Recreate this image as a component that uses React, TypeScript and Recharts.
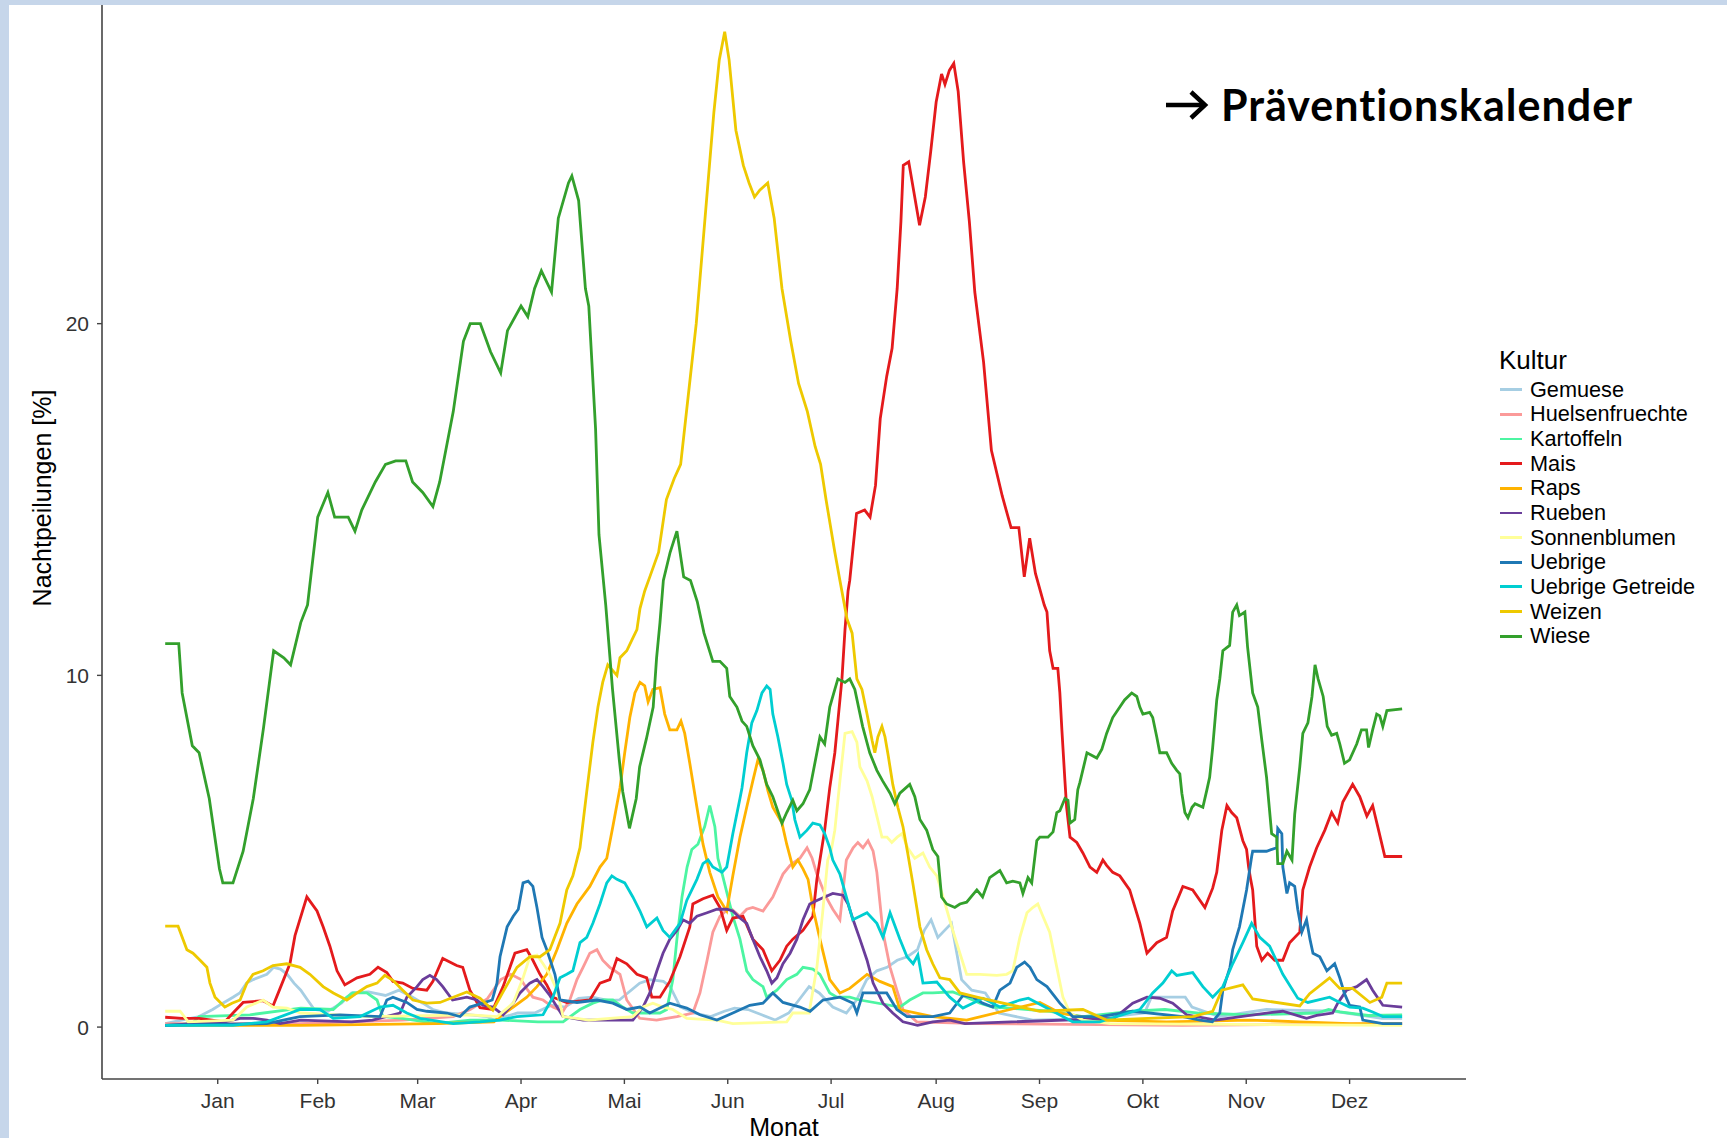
import { LineChart, Line, XAxis, YAxis, Legend, Label } from "recharts";

const FONT = "'Liberation Sans', Arial, sans-serif";

const months = ["Jan", "Feb", "Mar", "Apr", "Mai", "Jun", "Jul", "Aug", "Sep", "Okt", "Nov", "Dez"];
const monthDays = [31, 28, 31, 30, 31, 30, 31, 31, 30, 31, 30, 31];
const yTicks = [0, 10, 20];

// [Tag im Jahr, Nachtpeilungen %]
const gemuese = [
  [0, 0.1], [10, 0.3], [14, 0.5], [17, 0.68], [20, 0.85], [22, 0.97], [24, 1.25], [26, 1.35], [30, 1.5], [32, 1.7],
  [34, 1.65], [36, 1.5], [38, 1.25], [40, 1.05], [42, 0.77], [44, 0.5], [48, 0.45], [52, 0.68], [55, 0.97], [60, 1.0],
  [65, 0.9], [69, 1.05], [73, 0.85], [76, 0.68], [79, 0.5], [83, 0.4], [90, 0.35], [95, 0.3], [97, 0.2], [104, 0.4],
  [109, 0.4], [114, 0.62], [118, 0.57], [122, 0.82], [126, 0.85], [131, 0.75], [134, 0.77], [140, 1.25], [143, 1.35],
  [147, 1.3], [149, 1.15], [152, 0.57], [156, 0.4], [161, 0.3], [165, 0.45], [168, 0.54], [172, 0.5], [176, 0.35],
  [180, 0.2], [184, 0.4], [187, 0.77], [190, 1.15], [193, 0.97], [197, 0.57], [201, 0.4], [204, 0.77], [207, 1.35],
  [210, 1.6], [213, 1.7], [216, 1.9], [219, 2.0], [222, 2.2], [224, 2.75], [226, 3.05], [228, 2.55], [230, 2.75],
  [232, 2.95], [235, 1.35], [238, 1.05], [242, 0.97], [246, 0.4], [256, 0.2], [275, 0.25], [289, 0.4], [291, 0.85],
  [296, 0.85], [301, 0.85], [303, 0.57], [311, 0.3], [325, 0.5], [345, 0.45], [359, 0.25], [365, 0.25],
];

const huelsenfruechte = [
  [0, 0.1], [40, 0.1], [70, 0.2], [85, 0.3], [90, 0.5], [95, 0.8], [99, 1.35], [102, 1.5], [105, 1.35], [107, 1.05],
  [108.5, 0.85], [111.5, 0.77], [114.4, 0.57], [117.4, 0.45], [119.4, 0.77], [121.5, 1.35], [123.3, 1.7], [125.3, 2.1],
  [127.4, 2.2], [129.1, 1.9], [131.2, 1.7], [134.2, 1.5], [136.2, 0.77], [140, 0.25], [145, 0.2], [151, 0.3],
  [155.7, 0.4], [157.8, 0.97], [159.9, 1.9], [161.6, 2.7], [163.7, 3.15], [166.6, 3.4], [169.6, 3.15], [171.6, 3.35],
  [173.4, 3.4], [176.4, 3.3], [179.3, 3.7], [182.3, 4.35], [184.4, 4.6], [187.3, 4.8], [189.4, 5.1], [190.9, 4.8],
  [192.3, 4.35], [195, 3.7], [197, 3.35], [199.1, 3.05], [201, 4.75], [203, 5.1], [204.4, 5.25], [205.9, 5.1],
  [207.4, 5.3], [208.9, 5.0], [210, 4.4], [211.8, 2.7], [213.9, 1.7], [215.9, 1.05], [217.7, 0.5], [221.8, 0.15],
  [240, 0.1], [300, 0.05], [365, 0.1],
];

const kartoffeln = [
  [0, 0.05], [8, 0.1], [10, 0.3], [25, 0.35], [40, 0.54], [49.6, 0.5], [51.6, 0.68], [53.6, 0.85], [55.4, 0.97],
  [59.5, 0.97], [62.5, 0.77], [64.2, 0.3], [70, 0.25], [80, 0.1], [90, 0.2], [99, 0.2], [110, 0.15], [117.4, 0.15],
  [122.4, 0.5], [126.2, 0.68], [129.1, 0.77], [132.1, 0.77], [135, 0.57], [138, 0.4], [146, 0.4], [148, 0.5],
  [149.8, 1.35], [151, 2.5], [152.5, 3.7], [154, 4.55], [155.4, 5.05], [157.2, 5.2], [159.2, 5.7], [160.7, 6.3],
  [162.2, 5.7], [163.1, 4.8], [164.5, 4.3], [167.5, 3.15], [169.6, 2.5], [171.6, 1.6], [173.4, 1.35], [176.4, 1.15],
  [177.5, 0.85], [180.5, 1.05], [183.4, 1.35], [186.4, 1.5], [188.2, 1.7], [191.1, 1.65], [193.2, 1.5], [196.1, 0.97],
  [198.2, 0.85], [202, 0.85], [205, 0.77], [216.8, 0.57], [219.7, 0.77], [223.6, 0.97], [226.5, 0.97], [232.4, 1.0],
  [236.5, 0.85], [240.4, 0.68], [244.2, 0.57], [249.3, 0.54], [261, 0.45], [270.8, 0.3], [285.5, 0.45], [295, 0.5],
  [305, 0.4], [320, 0.35], [340, 0.4], [343.3, 0.5], [346.6, 0.43], [355, 0.33], [365, 0.35],
];

const mais = [
  [0, 0.28], [5, 0.25], [10, 0.25], [17.6, 0.15], [20, 0.4], [23, 0.7], [28.9, 0.75], [31.8, 0.6], [33.9, 1.1],
  [36.8, 1.8], [38.3, 2.6], [41.8, 3.7], [44.8, 3.3], [46.6, 2.85], [48.6, 2.3], [50.7, 1.6], [53, 1.2], [56.6, 1.4],
  [60.4, 1.5], [62.8, 1.7], [65.4, 1.55], [67.2, 1.3], [70.1, 1.25], [73.1, 1.1], [77.2, 1.05], [79, 1.3], [81.9, 1.95],
  [86, 1.75], [87.8, 1.7], [89.9, 1.05], [92.9, 0.55], [96.7, 0.5], [99.7, 1.15], [103.2, 2.1], [106.7, 2.2],
  [108.5, 1.9], [110.6, 1.5], [112.6, 1.2], [114.4, 0.85], [118.5, 0.7], [125.3, 0.77], [128.3, 1.25], [131.2, 1.35],
  [133.3, 1.95], [136.2, 1.8], [139.2, 1.5], [142.1, 1.4], [143.6, 0.85], [146, 0.85], [148.9, 1.3], [151.9, 2.0],
  [154.8, 2.85], [155.7, 3.5], [158.7, 3.65], [161.6, 3.75], [163.7, 3.4], [165.7, 2.75], [167.5, 3.1], [170.5, 3.15],
  [173.4, 2.5], [176.4, 2.2], [179, 1.6], [181.4, 1.9], [183.4, 2.3], [185.2, 2.5], [188.2, 2.75], [191.1, 3.15],
  [192.3, 4.2], [193.2, 4.75], [194.6, 5.6], [196.1, 6.8], [197.6, 7.8], [198.5, 8.7], [199.7, 9.9], [200.6, 11.3],
  [201.5, 12.4], [202, 12.7], [204, 14.6], [206.4, 14.7], [208, 14.5], [209.6, 15.4], [211, 17.3], [212.9, 18.5],
  [214.5, 19.3], [216, 21.0], [217.1, 22.9], [217.8, 24.5], [219.4, 24.6], [221, 23.7], [222.6, 22.8], [224.3, 23.6],
  [225.9, 24.9], [227.5, 26.3], [229.1, 27.1], [230.1, 26.8], [231.4, 27.2], [232.7, 27.4], [234, 26.6], [235.6, 24.6],
  [237.3, 22.9], [238.9, 20.9], [241.5, 18.9], [243.8, 16.4], [247, 15.1], [249.6, 14.2], [251.9, 14.2], [253.5, 12.8],
  [255.1, 13.9], [256.8, 12.9], [259.4, 12.0], [260.2, 11.8], [261, 10.7], [262, 10.2], [263.4, 10.2], [264, 9.5],
  [264.6, 8.45], [265.5, 7.0], [266, 6.25], [267, 5.4], [269, 5.25], [270.8, 4.95], [272.9, 4.55], [274.9, 4.4],
  [276.7, 4.75], [277.8, 4.6], [279.6, 4.4], [281.7, 4.3], [284.6, 3.9], [287.6, 2.95], [289.7, 2.1], [292.6, 2.4],
  [295.5, 2.55], [297.3, 3.3], [300.3, 4.0], [303.2, 3.9], [306.8, 3.4], [309.1, 3.95], [310.3, 4.4], [311.8, 5.6],
  [313.3, 6.3], [314.7, 6.1], [316.2, 5.95], [318, 5.3], [319.1, 5.05], [319.7, 4.55], [320.3, 4.2], [320.9, 3.9],
  [322.1, 2.3], [323.6, 1.9], [325.3, 2.1], [327.4, 1.9], [329.8, 1.9], [331.8, 2.4], [334.8, 2.7], [335.7, 3.9],
  [337.7, 4.55], [339.8, 5.1], [342.2, 5.6], [344.2, 6.1], [346, 5.8], [347.5, 6.4], [350.4, 6.9], [352.5, 6.55],
  [354.6, 6.0], [356.3, 6.3], [357.8, 5.7], [359.9, 4.85], [365, 4.85],
];

const raps = [
  [0, 0.05], [40, 0.05], [80, 0.1], [97, 0.15], [98.8, 0.3], [102.7, 0.57], [106.7, 0.85], [109.7, 1.15], [112.6, 1.5],
  [115.6, 2.2], [118.5, 2.95], [121.5, 3.5], [125.3, 4.0], [128.3, 4.55], [130.3, 4.8], [132.1, 5.7], [134.2, 6.8],
  [135.6, 7.8], [137.1, 8.8], [138.6, 9.5], [140.1, 9.8], [141.5, 9.7], [142.5, 9.25], [143.9, 9.6], [146, 9.65],
  [147.4, 8.9], [148.9, 8.45], [151, 8.45], [152.2, 8.7], [153.3, 8.35], [154.8, 7.5], [156.9, 6.25], [158.7, 5.2],
  [160.7, 4.4], [163.1, 3.7], [165.7, 3.3], [167.5, 4.3], [169.6, 5.4], [171.6, 6.25], [173.4, 7.0], [174.9, 7.6],
  [176.4, 7.3], [177.9, 6.7], [179.3, 6.25], [182, 5.8], [183.4, 5.2], [185.2, 4.55], [186.7, 4.75], [188.2, 4.5],
  [189.7, 4.2], [191.1, 3.4], [193.2, 2.5], [196.1, 1.35], [199.1, 0.97], [202, 1.1], [207.1, 1.5], [210.9, 1.3],
  [214.7, 1.15], [216.8, 0.5], [226.5, 0.3], [236.5, 0.2], [249.3, 0.5], [258.1, 0.7], [264, 0.4], [275.8, 0.2],
  [295.5, 0.15], [320, 0.2], [334.8, 0.15], [349.5, 0.1], [365, 0.1],
];

const rueben = [
  [0, 0.05], [17.6, 0.15], [22.1, 0.25], [25.9, 0.25], [30, 0.2], [33.9, 0.1], [40, 0.2], [55, 0.15], [61.2, 0.2],
  [69.3, 0.4], [71.3, 0.85], [74.3, 1.15], [76, 1.35], [78.1, 1.47], [80.1, 1.35], [81.9, 1.15], [84.8, 0.77], [89, 0.85],
  [92, 0.77], [93.7, 0.62], [96.7, 0.57], [99.7, 0.35], [102.7, 0.68], [104.7, 0.97], [107.6, 1.25], [109.7, 1.35],
  [111.5, 1.15], [113.5, 0.9], [117.4, 0.3], [123.3, 0.2], [138, 0.2], [141, 0.57], [143, 0.97], [145.1, 1.6],
  [146.9, 2.1], [148.9, 2.5], [151, 2.75], [152.8, 3.05], [154.8, 2.95], [156.9, 3.15], [159.9, 3.25], [162.8, 3.35],
  [165.7, 3.35], [167.5, 3.3], [169.6, 3.1], [171.6, 2.95], [173.4, 2.5], [175.5, 2.0], [177.5, 1.6], [179, 1.25],
  [180.5, 1.4], [182.3, 1.8], [184.4, 2.1], [186.4, 2.5], [188.2, 3.05], [190.2, 3.5], [192.3, 3.6], [194.6, 3.7],
  [197, 3.8], [200, 3.75], [201.5, 3.5], [203, 3.05], [205, 2.5], [207.1, 1.9], [208.9, 1.25], [211.8, 0.68],
  [214.7, 0.4], [217.7, 0.15], [222, 0.05], [226.5, 0.15], [231.5, 0.2], [236, 0.1], [280, 0.25], [285.5, 0.68],
  [289.7, 0.85], [293.5, 0.82], [297.3, 0.68], [301.4, 0.35], [310, 0.2], [325, 0.4], [329.8, 0.45], [336.8, 0.25],
  [339.8, 0.33], [344.5, 0.4], [346, 0.68], [348.6, 1.05], [351.6, 1.15], [354.5, 1.35], [356.3, 1.05], [359.3, 0.62],
  [365, 0.57],
];

const sonnenblumen = [
  [0, 0.45], [4.4, 0.45], [6.8, 0.15], [20, 0.2], [24.1, 0.57], [28.9, 0.77], [31.8, 0.57], [35.9, 0.54], [40, 0.4],
  [60, 0.3], [90, 0.35], [98, 0.3], [102.7, 0.68], [105.6, 1.4], [107.6, 2.0], [109.7, 2.05], [111.5, 1.8], [113.5, 1.5],
  [115.6, 1.05], [117.4, 0.3], [125, 0.2], [138, 0.3], [141, 0.57], [143.9, 0.68], [146.9, 0.57], [149.8, 0.5],
  [153.9, 0.25], [162.8, 0.2], [167.5, 0.1], [183.4, 0.15], [185.2, 0.4], [190, 0.4], [192.3, 1.7], [194, 3.25],
  [195.5, 4.75], [196.5, 5.0], [197.6, 5.6], [199.1, 7.0], [200.6, 8.35], [202.7, 8.4], [204.1, 8.1], [205, 7.4],
  [207.1, 7.0], [208.6, 6.55], [210, 6.0], [211.5, 5.4], [213, 5.4], [214.4, 5.25], [216, 5.4], [217.4, 5.5],
  [219.1, 5.1], [221.2, 4.8], [223.6, 4.95], [225.6, 4.55], [227.7, 4.3], [230.6, 3.35], [232.4, 2.75], [234.5, 2.1],
  [236.5, 1.5], [240.4, 1.5], [245.4, 1.47], [248.3, 1.5], [250.1, 1.6], [252.2, 2.55], [254.3, 3.25], [256, 3.4],
  [257.5, 3.5], [259, 3.15], [261, 2.7], [263.1, 1.7], [264.9, 0.85], [267, 0.4], [270.8, 0.2], [278.8, 0.1],
  [365, 0.05],
];

const uebrige = [
  [0, 0.05], [30, 0.1], [39.8, 0.3], [51.6, 0.35], [63.4, 0.3], [65.4, 0.77], [67.2, 0.85], [71.3, 0.7], [74.3, 0.5],
  [77.2, 0.45], [83.1, 0.4], [87, 0.3], [89.9, 0.57], [93.7, 0.68], [96.5, 0.77], [97.9, 1.25], [98.8, 2.0],
  [100.9, 2.85], [102.7, 3.15], [104.2, 3.35], [105.6, 4.1], [107.1, 4.15], [108.5, 4.0], [109.7, 3.4], [111.2, 2.55],
  [112.6, 2.2], [115, 1.5], [116.5, 0.77], [121.5, 0.7], [127.4, 0.77], [132.1, 0.68], [136.2, 0.5], [140.1, 0.57],
  [143, 0.4], [148.9, 0.68], [153.9, 0.54], [157.8, 0.35], [162.8, 0.2], [167.5, 0.4], [172.5, 0.62], [176.4, 0.68],
  [179.3, 0.97], [182.3, 0.7], [187.3, 0.57], [190.3, 0.45], [194.1, 0.77], [199.1, 0.85], [203, 0.68], [204.1, 0.4],
  [205.9, 0.97], [212.9, 0.97], [215.9, 0.5], [218.9, 0.3], [226.5, 0.3], [231.5, 0.4], [235.4, 0.9], [238.4, 0.85],
  [241.2, 0.68], [244.2, 0.57], [246.3, 1.05], [249.3, 1.25], [251.3, 1.7], [253.6, 1.85], [255.2, 1.7], [257.2, 1.35],
  [260.2, 1.15], [264, 0.68], [267.8, 0.3], [275.8, 0.3], [285.5, 0.45], [300.3, 0.3], [305.3, 0.2], [309, 0.15],
  [311.2, 0.4], [312.1, 1.05], [314.2, 1.7], [315, 2.2], [317, 2.85], [319.1, 3.9], [320.6, 4.85], [320.9, 5.0],
  [325, 5.0], [328, 5.1], [328.3, 5.65], [329.5, 5.5], [329.8, 4.55], [331, 3.8], [331.8, 4.1], [333.3, 4.0],
  [334.2, 3.35], [335.4, 2.7], [336.8, 3.05], [337.8, 2.5], [338.7, 2.1], [340.7, 2.0], [342.8, 1.6], [345.1, 1.8],
  [346.6, 1.4], [348, 0.95], [349.5, 0.62], [352.5, 0.57], [353.4, 0.2], [359.3, 0.1], [365, 0.1],
];

const uebrigeGetreide = [
  [0, 0.05], [20, 0.05], [30, 0.15], [39.8, 0.5], [45.7, 0.5], [49.6, 0.25], [57.5, 0.3], [63.4, 0.57], [67.2, 0.62],
  [71.3, 0.4], [75.2, 0.25], [85, 0.1], [92.9, 0.15], [98.8, 0.2], [103.8, 0.3], [111.5, 0.35], [114.4, 0.85],
  [116.5, 1.4], [118.5, 1.5], [120.3, 1.6], [122.4, 2.4], [124.4, 2.55], [126.2, 2.95], [128.3, 3.5], [130.3, 4.1],
  [131.8, 4.3], [133.3, 4.2], [135.6, 4.1], [138, 3.7], [140.1, 3.3], [142.1, 2.85], [145.1, 3.1], [146.9, 2.75],
  [148.9, 2.55], [151.9, 2.95], [153.9, 3.6], [156.9, 4.2], [158.7, 4.65], [160.2, 4.75], [161.6, 4.55], [164.3, 4.4],
  [165.7, 4.55], [167.5, 5.5], [169.6, 6.5], [170.2, 6.8], [171.6, 7.8], [173.1, 8.65], [174.6, 9.0], [176.1, 9.5],
  [177.5, 9.7], [178.5, 9.6], [179.3, 8.9], [180.8, 8.25], [182.3, 7.5], [183.4, 6.9], [184.9, 6.45], [185.8, 5.9],
  [187.3, 5.4], [189.4, 5.6], [191.1, 5.8], [193.2, 5.75], [194.6, 5.5], [196.1, 5.1], [197, 4.75], [199.1, 4.35],
  [202.9, 3.05], [205, 3.15], [207.1, 3.25], [210, 2.95], [211.8, 2.55], [213.9, 3.25], [216.8, 2.5], [218.9, 2.0],
  [220.7, 1.8], [222.1, 2.05], [223.6, 1.25], [227.7, 1.28], [231.5, 0.85], [235.4, 0.54], [241.3, 0.82],
  [246.3, 0.57], [252.2, 0.77], [254.7, 0.82], [261, 0.5], [267.8, 0.15], [275.8, 0.15], [280.8, 0.3], [287.6, 0.5],
  [291.4, 0.97], [294.4, 1.25], [297, 1.6], [298.5, 1.47], [303.2, 1.55], [306.2, 1.15], [309.1, 0.85], [312.1, 1.15],
  [315, 1.8], [318, 2.4], [320.6, 2.95], [323, 2.55], [325.9, 2.3], [329.8, 1.5], [334.2, 0.82], [337.2, 0.7],
  [343.6, 0.85], [346.6, 0.7], [349.5, 0.57], [353.4, 0.54], [356.3, 0.43], [359.3, 0.3], [365, 0.3],
];

const weizen = [
  [0, 2.87], [3.8, 2.87], [6.4, 2.2], [8.2, 2.1], [10.3, 1.9], [12.3, 1.7], [13.2, 1.25], [14.7, 0.85], [17.6, 0.57],
  [19.7, 0.68], [22.1, 0.77], [24.1, 1.25], [25.9, 1.5], [28.9, 1.6], [31.8, 1.75], [35.9, 1.8], [39.8, 1.7],
  [42.7, 1.5], [46.6, 1.15], [49.6, 0.97], [53.6, 0.77], [56.6, 0.97], [59.5, 1.15], [62.5, 1.25], [64.8, 1.47],
  [67.2, 1.33], [70.1, 1.05], [73.1, 0.77], [77.2, 0.68], [81.1, 0.7], [85, 0.85], [89, 1.0], [92.9, 0.82], [96.7, 0.48],
  [99.7, 1.0], [103.8, 1.7], [107.6, 2.0], [110.6, 2.0], [113.5, 2.2], [116.5, 2.95], [118.5, 3.9], [120.3, 4.3],
  [122.4, 5.1], [124.4, 6.7], [126.2, 8.1], [127.7, 9.1], [129.1, 9.8], [130.6, 10.3], [133.3, 10.0], [134.2, 10.5],
  [136.2, 10.7], [137.7, 11.0], [139.2, 11.3], [140.1, 11.9], [141.5, 12.4], [143, 12.8], [145.6, 13.5], [147.9, 15.0],
  [150.2, 15.6], [152.1, 16.0], [154.4, 18.0], [156.7, 20.0], [159.3, 23.0], [161.9, 26.0], [163.5, 27.5],
  [165.1, 28.3], [166.4, 27.5], [168.4, 25.5], [170.6, 24.5], [172.3, 24.0], [173.9, 23.6], [175.5, 23.8],
  [177.8, 24.0], [179.7, 23.0], [182, 21.0], [184.6, 19.5], [186.9, 18.3], [189.5, 17.5], [191.8, 16.5], [193.4, 16.0],
  [195, 15.0], [197.6, 13.5], [199.1, 12.7], [201.2, 11.6], [202.7, 11.2], [204.1, 9.9], [205.6, 9.6], [207.1, 8.9],
  [208.6, 8.15], [209.4, 7.8], [210.3, 8.25], [211.5, 8.55], [212.4, 8.25], [213.3, 7.75], [214.7, 6.9], [216.2, 6.25],
  [217.7, 5.7], [219.1, 4.95], [220.6, 4.1], [222.7, 2.85], [224.7, 2.2], [226.5, 1.8], [228.6, 1.4], [231.5, 1.35],
  [234.5, 0.97], [239.5, 0.85], [246.3, 0.7], [258.1, 0.45], [270.8, 0.5], [277.8, 0.2], [303.2, 0.3], [309.1, 0.45],
  [311.8, 1.05], [318, 1.2], [320.9, 0.8], [334.8, 0.6], [337.7, 0.95], [343.6, 1.4], [346.6, 1.1], [350.4, 1.1],
  [355.5, 0.7], [359, 0.85], [360.5, 1.25], [365, 1.25],
];

const wiese = [
  [0, 10.9], [4, 10.9], [5, 9.5], [8, 8.0], [10, 7.8], [13, 6.5], [16, 4.5], [17, 4.1], [20, 4.1], [23, 5.0], [26, 6.5],
  [29, 8.5], [32, 10.7], [35, 10.5], [37, 10.3], [40, 11.5], [42, 12.0], [45, 14.5], [48, 15.2], [50, 14.5], [54, 14.5],
  [56, 14.1], [58, 14.7], [62, 15.5], [65, 16.0], [68, 16.1], [71, 16.1], [73, 15.5], [76, 15.2], [79, 14.8], [81, 15.5],
  [85, 17.5], [88, 19.5], [90, 20.0], [93, 20.0], [96, 19.2], [99, 18.6], [101, 19.8], [105, 20.5], [107, 20.2],
  [109, 21.0], [111, 21.5], [114, 20.9], [116, 23.0], [119, 24.0], [120, 24.2], [122, 23.5], [124, 21.0], [125, 20.5],
  [127, 17.0], [128, 14.0], [130, 12.0], [132, 9.6], [134, 7.6], [135, 6.7], [137, 5.65], [139, 6.5], [140, 7.4],
  [142, 8.2], [144, 9.1], [145, 10.5], [146, 11.5], [147, 12.7], [149, 13.5], [151, 14.1], [153, 12.8], [155, 12.7],
  [157, 12.1], [159, 11.2], [161.6, 10.4], [163.7, 10.4], [165.7, 10.2], [166.6, 9.4], [168.7, 9.1], [170.2, 8.7],
  [171.6, 8.55], [173.4, 8.0], [175.5, 7.6], [177.5, 6.9], [179.3, 6.55], [182, 5.8], [183.4, 6.1], [185.2, 6.45],
  [186.4, 6.15], [188.2, 6.35], [190.2, 6.75], [192.3, 7.8], [193.2, 8.25], [194.6, 8.05], [196.1, 9.1], [197.6, 9.6],
  [198.5, 9.9], [200.6, 9.8], [202, 9.9], [203.5, 9.6], [205.8, 8.55], [207.9, 7.8], [210, 7.3], [211.7, 7.0],
  [213.9, 6.65], [215.3, 6.35], [216.8, 6.65], [219.7, 6.9], [221.2, 6.55], [222.7, 5.9], [224.7, 5.6], [226.5, 5.05],
  [228, 4.85], [229.1, 3.7], [230.6, 3.5], [233, 3.4], [234.5, 3.5], [236.5, 3.55], [239.5, 3.9], [241.2, 3.7],
  [243.3, 4.25], [246.3, 4.45], [248.3, 4.1], [250.1, 4.15], [252.2, 4.1], [253.1, 3.8], [254.6, 4.25], [255.7, 4.1],
  [257.2, 5.3], [258.1, 5.4], [260.5, 5.4], [262, 5.55], [263.1, 6.1], [264, 6.15], [265.5, 6.5], [266.4, 6.45],
  [267, 5.8], [268.4, 5.9], [269.3, 6.75], [269.9, 6.95], [272, 7.8], [274.9, 7.65], [276.4, 7.9], [277.8, 8.35],
  [279.6, 8.8], [281.7, 9.1], [283.1, 9.3], [285.2, 9.5], [286.7, 9.4], [287.6, 9.1], [288.5, 8.9], [290.5, 8.95],
  [291.4, 8.8], [292.6, 8.25], [293.5, 7.8], [295.5, 7.8], [297, 7.5], [298.5, 7.3], [299.4, 7.2], [300, 6.65],
  [300.9, 6.1], [301.8, 5.95], [303, 6.25], [303.9, 6.35], [306.2, 6.25], [307.4, 6.75], [308.2, 7.1], [309.1, 7.95],
  [310.3, 9.3], [311.2, 9.9], [312.1, 10.7], [314.1, 10.85], [315, 11.8], [316.2, 12.0], [317, 11.7], [318.6, 11.8],
  [319.4, 10.8], [320.9, 9.5], [322.4, 9.1], [323.6, 8.15], [325, 7.1], [326.5, 5.5], [328, 5.4], [328.3, 4.65],
  [329.8, 4.65], [331, 5.0], [332.5, 4.75], [333.3, 6.05], [334.8, 7.4], [335.7, 8.35], [337.2, 8.65], [338.4, 9.4],
  [339.3, 10.3], [340.2, 9.9], [341.7, 9.4], [342.9, 8.55], [344.2, 8.3], [345.7, 8.35], [346.6, 8.05], [348, 7.5],
  [349.5, 7.6], [351.6, 8.05], [353, 8.45], [354.5, 8.45], [355.1, 7.95], [356.3, 8.45], [357.5, 8.9], [358.4, 8.85],
  [359.3, 8.55], [360.5, 9.0], [365, 9.05],
];

const kulturen = [
  { name: "Gemuese", color: "#A6CEE3", values: gemuese },
  { name: "Huelsenfruechte", color: "#FB9A99", values: huelsenfruechte },
  { name: "Kartoffeln", color: "#4CF5A2", values: kartoffeln },
  { name: "Mais", color: "#E41A1C", values: mais },
  { name: "Raps", color: "#FFB300", values: raps },
  { name: "Rueben", color: "#6A3D9A", values: rueben },
  { name: "Sonnenblumen", color: "#FFFF99", values: sonnenblumen },
  { name: "Uebrige", color: "#1F78B4", values: uebrige },
  { name: "Uebrige Getreide", color: "#00CED1", values: uebrigeGetreide },
  { name: "Weizen", color: "#EEC900", values: weizen },
  { name: "Wiese", color: "#33A02C", values: wiese },
];

const series = kulturen.map((k) => ({ ...k, data: k.values.map(([d, v]) => ({ d, v })) }));

// Monatsmitte als Tick-Position
const monthTicks = monthDays.map((n, i) => monthDays.slice(0, i).reduce((a, b) => a + b, 0) + n / 2);
const monthLabel = (v: number) => months[monthTicks.indexOf(v)] ?? "";

function KulturLegend() {
  return (
    <div style={{ fontFamily: FONT, color: "#000" }}>
      <div style={{ fontSize: 26, height: 32.3, lineHeight: "30px" }}>Kultur</div>
      {series.map((s) => (
        <div key={s.name} style={{ height: 24.67, display: "flex", alignItems: "center" }}>
          <div style={{ width: 22, height: 2.8, marginLeft: 1, background: s.color }} />
          <span style={{ marginLeft: 8, fontSize: 21.7, whiteSpace: "nowrap" }}>{s.name}</span>
        </div>
      ))}
    </div>
  );
}

function YTitle() {
  return (
    <text x={42} y={498} transform="rotate(-90 42 498)" textAnchor="middle" dominantBaseline="central"
      fontFamily={FONT} fontSize={25} fill="#000">
      Nachtpeilungen [%]
    </text>
  );
}

export default function App() {
  return (
    <div style={{ position: "absolute", left: 0, top: 0, width: 1727, height: 1138, background: "#fff", overflow: "hidden" }}>
      <LineChart width={1727} height={1138} margin={{ top: 5, right: 261, bottom: 0, left: 0 }}>
        <XAxis
          dataKey="d"
          type="number"
          domain={[-18.65, 383.85]}
          allowDataOverflow
          ticks={monthTicks}
          interval={0}
          tickFormatter={monthLabel}
          height={59}
          tickSize={5}
          tickMargin={9}
          axisLine={{ stroke: "#444", strokeWidth: 1.6 }}
          tickLine={{ stroke: "#444", strokeWidth: 1.4 }}
          tick={{ fontFamily: FONT, fontSize: 21, fill: "#333" }}
        >
          <Label value="Monat" position="insideBottom" offset={2} fontFamily={FONT} fontSize={25} fill="#000" />
        </XAxis>
        <YAxis
          type="number"
          domain={[-1.476, 29.06]}
          allowDataOverflow
          ticks={yTicks}
          width={102}
          tickSize={5}
          tickMargin={8}
          axisLine={{ stroke: "#444", strokeWidth: 1.6 }}
          tickLine={{ stroke: "#444", strokeWidth: 1.4 }}
          tick={{ fontFamily: FONT, fontSize: 21, fill: "#333" }}
        >
          <Label content={<YTitle />} />
        </YAxis>
        <Legend
          layout="vertical"
          align="center"
          verticalAlign="middle"
          wrapperStyle={{ left: 1499, top: 345, width: 228 }}
          content={() => <KulturLegend />}
        />
        {series.map((s) => (
          <Line
            key={s.name}
            data={s.data}
            dataKey="v"
            name={s.name}
            type="linear"
            stroke={s.color}
            strokeWidth={2.8}
            dot={false}
            activeDot={false}
            isAnimationActive={false}
          />
        ))}
      </LineChart>
      <div style={{ position: "absolute", left: 0, top: 0, width: 9, height: 1138, background: "#c6d6ea" }} />
      <div style={{ position: "absolute", left: 0, top: 0, width: 1727, height: 5, background: "#c6d6ea" }} />
      <div style={{ position: "absolute", left: 1165, top: 83, display: "flex", alignItems: "center" }}>
        <svg width={44} height={30} style={{ marginRight: 12 }}>
          <polyline points="1,15 40,15" stroke="#000" strokeWidth={4.5} fill="none" />
          <polyline points="26,2 40,15 26,28" stroke="#000" strokeWidth={4.5} fill="none" />
        </svg>
        <span style={{ fontFamily: "Lato, 'Open Sans', sans-serif", fontWeight: 700, fontSize: 43, lineHeight: "43px", letterSpacing: 1, color: "#000" }}>
          Präventionskalender
        </span>
      </div>
    </div>
  );
}
